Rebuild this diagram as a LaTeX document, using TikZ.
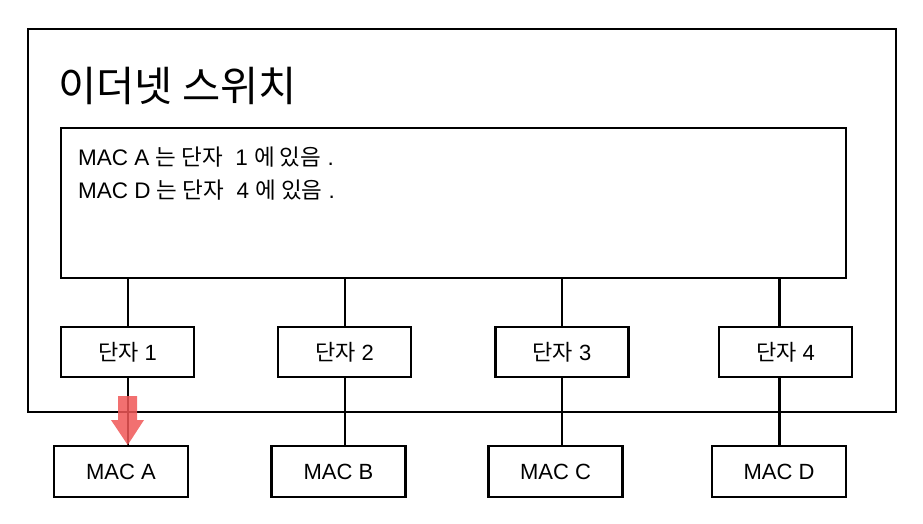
\documentclass[tikz,border=0pt]{standalone}
\usepackage{fontspec}
\setmainfont{Liberation Sans}
\newfontfamily\kr{Noto Sans CJK KR}
\newcommand{\K}[1]{{\kr #1}}
\definecolor{arrowred}{RGB}{240,88,88}
\begin{document}
\begin{tikzpicture}[x=1pt,y=-1pt,
  box/.style={draw=black, line width=2.2pt, fill=white, inner sep=0pt, outer sep=0pt, anchor=north west},
  portbox/.style={box, minimum width=133pt, minimum height=50pt, font=\fontsize{22}{26}\selectfont},
  macbox/.style={box, minimum width=134pt, minimum height=51pt, font=\fontsize{22}{26}\selectfont},
  rowtext/.style={anchor=west, inner sep=0pt, font=\fontsize{22.5}{26}\selectfont},
  wire/.style={draw=black, line width=2.2pt}]
\useasboundingbox (0,0) rectangle (923,523);
\fill[white] (0,0) rectangle (923,523);
% outer switch
\node[box, minimum width=868pt, minimum height=383pt] (sw) at (28,29) {};
\node[anchor=west, inner sep=0pt, font=\fontsize{41.5}{48}\selectfont] (title) at (58,86) {\K{이더넷 스위치}};
% table
\node[box, minimum width=785pt, minimum height=150pt] (tbl) at (61,128) {};
\node[rowtext] (row1) at (78,157) {MAC A \K{는 단자}\ \ 1 \K{에 있음} .};
\node[rowtext] (row2) at (78,190) {MAC D \K{는 단자}\ \ 4 \K{에 있음} .};
% wire positions
\coordinate (l1) at (127.7,0);
\coordinate (l2) at (345,0);
\coordinate (l3) at (562,0);
\coordinate (l4) at (779.5,0);
% ports
\node[portbox] (p1) at (61,327) {\K{단자} 1};
\node[portbox] (p2) at (278,327) {\K{단자} 2};
\node[portbox] (p3) at (495.5,327) {\K{단자} 3};
\node[portbox] (p4) at (719,327) {\K{단자} 4};
% MAC hosts
\node[macbox] (ma) at (54,446) {MAC A};
\node[macbox] (mb) at (271.5,446) {MAC B};
\node[macbox] (mc) at (488.5,446) {MAC C};
\node[macbox] (md) at (712,446) {MAC D};
% wires
\foreach \i/\p/\m in {1/p1/ma,2/p2/mb,3/p3/mc,4/p4/md}{
  \draw[wire] (tbl.south -| l\i) -- (\p.north -| l\i);
  \draw[wire] (\p.south -| l\i) -- (\m.north -| l\i);
}
% red arrow
\fill[arrowred, fill opacity=0.85] (118,396) -- (137,396) -- (137,420) -- (144,420) -- (127.7,445) -- (111,420) -- (118,420) -- cycle;
\end{tikzpicture}
\end{document}
